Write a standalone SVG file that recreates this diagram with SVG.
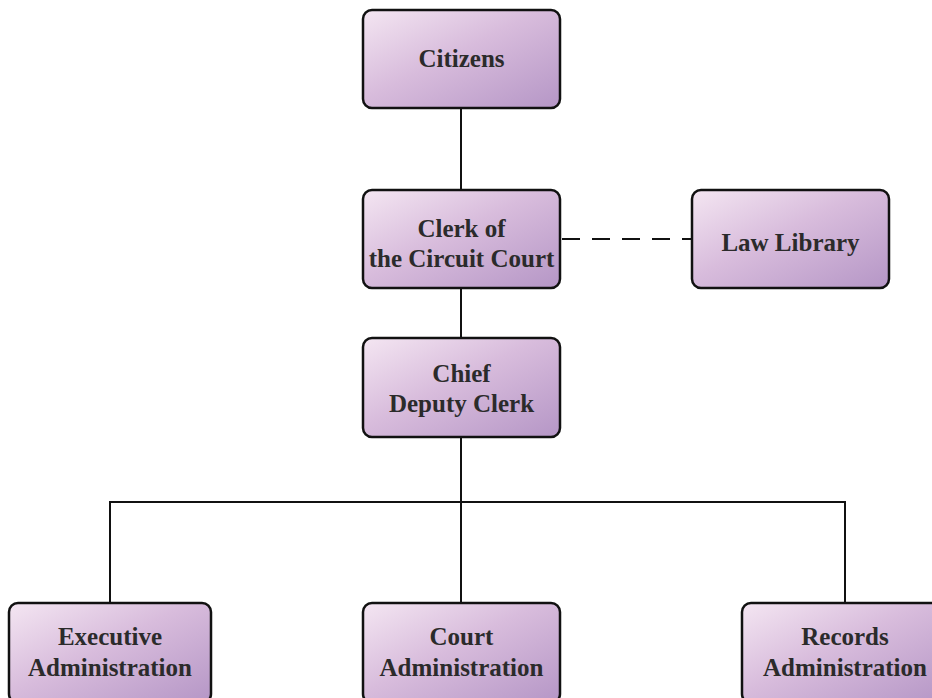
<svg xmlns="http://www.w3.org/2000/svg" width="932" height="698" viewBox="0 0 932 698">
  <defs>
    <linearGradient id="boxFill" x1="0" y1="0" x2="1" y2="1">
      <stop offset="0" stop-color="#f4e6f2"/>
      <stop offset="0.45" stop-color="#d8bcdc"/>
      <stop offset="1" stop-color="#b596c6"/>
    </linearGradient>
    <style>
      .box { fill: url(#boxFill); stroke: #111; stroke-width: 2.5; }
      .lbl { font-family: "Liberation Serif", "DejaVu Serif", serif; font-weight: bold; font-size: 25px; fill: #2b2b2b; text-anchor: middle; }
      .wire { stroke: #111; stroke-width: 2; fill: none; }
      .dash { stroke-dasharray: 18 12; }
    </style>
  </defs>

  <g id="connectors">
    <line class="wire" x1="461" y1="108" x2="461" y2="190"/>
    <line class="wire" x1="461" y1="288" x2="461" y2="338"/>
    <line class="wire" x1="461" y1="437" x2="461" y2="603"/>
    <polyline class="wire" points="110,603 110,502 845,502 845,603"/>
    <line class="wire dash" x1="562" y1="239" x2="692" y2="239"/>
  </g>

  <g id="citizens">
    <rect class="box" x="363" y="10" width="197" height="98" rx="9"/>
    <text class="lbl" x="461.5" y="67">Citizens</text>
  </g>

  <g id="clerk">
    <rect class="box" x="363" y="190" width="197" height="98" rx="9"/>
    <text class="lbl" x="461.5" y="237">Clerk of</text>
    <text class="lbl" x="461.5" y="267">the Circuit Court</text>
  </g>

  <g id="law-library">
    <rect class="box" x="692" y="190" width="197" height="98" rx="9"/>
    <text class="lbl" x="790.5" y="251">Law Library</text>
  </g>

  <g id="chief-deputy">
    <rect class="box" x="363" y="338" width="197" height="99" rx="9"/>
    <text class="lbl" x="461.5" y="382">Chief</text>
    <text class="lbl" x="461.5" y="412">Deputy Clerk</text>
  </g>

  <g id="executive-admin">
    <rect class="box" x="9" y="603" width="202" height="100" rx="9"/>
    <text class="lbl" x="110" y="645">Executive</text>
    <text class="lbl" x="110" y="676">Administration</text>
  </g>

  <g id="court-admin">
    <rect class="box" x="363" y="603" width="197" height="100" rx="9"/>
    <text class="lbl" x="461.5" y="645">Court</text>
    <text class="lbl" x="461.5" y="676">Administration</text>
  </g>

  <g id="records-admin">
    <rect class="box" x="742" y="603" width="202" height="100" rx="9"/>
    <text class="lbl" x="845" y="645">Records</text>
    <text class="lbl" x="845" y="676">Administration</text>
  </g>
</svg>
